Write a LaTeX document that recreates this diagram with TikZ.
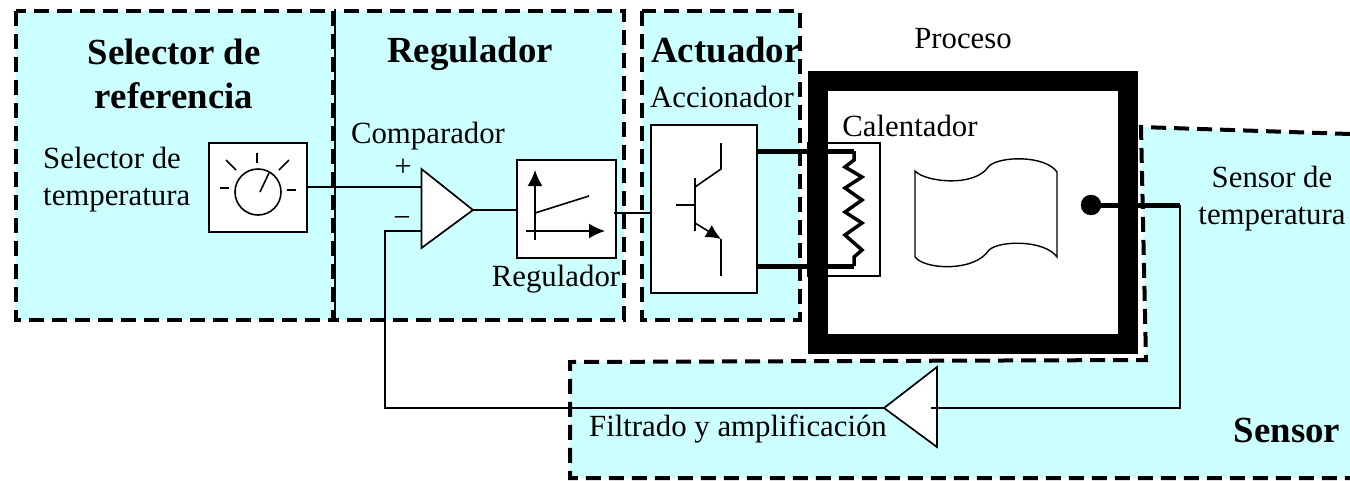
\documentclass[tikz,border=0pt]{standalone}
\usepackage{fontspec}
\setmainfont{Liberation Serif}
\usetikzlibrary{arrows.meta}
\definecolor{panelcyan}{HTML}{CCFFFF}

\tikzset{
  panel/.style={fill=panelcyan,draw=black,line width=4pt,dash pattern=on 15pt off 8pt},
  wire/.style={draw=black,line width=1.7pt},
  thickwire/.style={draw=black,line width=5pt},
  blockbox/.style={draw=black,fill=white,line width=2pt,inner sep=0pt},
  plain/.style={inner sep=0pt,font=\fontsize{30.8}{37}\selectfont},
  title/.style={inner sep=0pt,align=center,font=\fontsize{36.8}{44}\selectfont\bfseries},
}

\begin{document}
\begin{tikzpicture}[x=1pt,y=-1pt]
\useasboundingbox (0,0) rectangle (1350,480);

% Draw the dashed panels
\filldraw[panel] (16,11) rectangle (333,320);
\filldraw[panel] (334,11) rectangle (624,320);
\draw[wire] (335,11) -- (335,320);
\filldraw[panel] (642,11) rectangle (800,320);
\fill[panelcyan] (1141,127) -- (1350,134) -- (1350,478) -- (570,478) -- (570,362) -- (1146,360) -- cycle;
\draw[panel,fill=none] (1350,134) -- (1141,127) -- (1146,360) -- (570,362) -- (570,478) -- (1350,478);

% Draw the titles
\node[title] (selectortitle) at (174,74) {Selector de\\referencia};
\node[title,anchor=base] (regtitle) at (470,62) {Regulador};
\node[title,anchor=base] (acttitle) at (726,62) {Actuador};
\node[title,anchor=base] (sensortitle) at (1287,442) {Sensor};

% Draw the heater box and the process frame
\node[blockbox,minimum width=72pt,minimum height=133pt,line width=1.4pt] (heater) at (844,209.5) {};
\draw[draw=black,line width=20pt] (818,81) rectangle (1128,344);

% Draw the blocks
\node[blockbox,minimum width=98pt,minimum height=89pt] (dial) at (258,187.5) {};
\node[blockbox,minimum width=99pt,minimum height=98pt] (regbox) at (566.5,209) {};
\node[blockbox,minimum width=106pt,minimum height=168pt] (driver) at (704,209) {};

% Draw the dial
\draw[line width=1.6pt] (258,192) circle (23);
\draw[line width=1.6pt] (260,192) -- (269,173);
\draw[line width=1.6pt] (220,188) -- (229,188);
\draw[line width=1.6pt] (287,190) -- (296,190);
\draw[line width=1.6pt] (257,153) -- (257,163);
\draw[line width=1.6pt] (226,160) -- (236,170);
\draw[line width=1.6pt] (289,160) -- (279,170);

% Draw the controller graph
\draw[-{Latex[length=16pt,width=15pt]},line width=1.6pt] (535,240) -- (535,170);
\draw[-{Latex[length=16pt,width=15pt]},line width=1.6pt] (526,231) -- (605,231);
\draw[line width=1.6pt] (535,213) -- (589,196);

% Draw the transistor
\draw[line width=1.6pt] (695,178) -- (695,231);
\draw[line width=1.6pt] (676,205) -- (695,205);
\draw[line width=1.6pt] (695,187) -- (721,169) -- (721,143);
\draw[-{Latex[length=15pt,width=14pt]},line width=1.6pt] (695,223) -- (721,239);
\draw[line width=1.6pt] (721,239) -- (721,276);

% Draw the comparator and the filter
\coordinate (cmpa) at (421.5,169);
\coordinate (cmpb) at (421.5,248);
\coordinate (cmpout) at (473,210);
\coordinate (cmpplus) at (421.5,187);
\coordinate (cmpminus) at (421.5,231);
\coordinate (cmpcorner) at (385,231);
\coordinate (fila) at (937,367);
\coordinate (filb) at (937,447);
\coordinate (filout) at (884,408);
\coordinate (filin) at (931,408);
\coordinate (sensorcorner) at (1180,408);
\coordinate (sensorend) at (1180,205);
\coordinate (fbcorner) at (385,408);
\coordinate (probe) at (1091,205);
\filldraw[fill=white,draw=black,line width=1.7pt] (cmpa) -- (cmpout) -- (cmpb) -- cycle;
\filldraw[fill=white,draw=black,line width=1.7pt] (fila) -- (filout) -- (filb) -- cycle;

% Draw the connectors
\draw[wire] (dial.east |- cmpplus) -- (cmpplus);
\draw[wire] (cmpout) -- (regbox.west |- cmpout);
\draw[wire] (614,213) coordinate (regout) -- (driver.west |- regout);
\draw[wire] (cmpminus) -- (cmpcorner) -- (fbcorner) -- (filout);
\draw[wire] (sensorend) -- (sensorcorner) -- (filin);

% Draw the heater wires and the resistor
\coordinate (wiretop) at (854,151);
\coordinate (wirebot) at (854,266);
\draw[thickwire] (driver.east |- wiretop) -- (wiretop);
\draw[thickwire] (driver.east |- wirebot) -- (wirebot);
\draw[line width=3.5pt,line join=miter] (wiretop) -- (854,160) -- (845,167) -- (862,177) -- (845,188) -- (862,200) -- (845,212) -- (862,223) -- (845,235) -- (862,250) -- (854,257) -- (wirebot);

% Draw the liquid
\draw[line width=1.4pt] (915,171) .. controls (925,182) and (975,188) .. (989,166) .. controls (1000,156) and (1045,155) .. (1057,172) -- (1057,257) .. controls (1045,240) and (1000,240) .. (989,250) .. controls (975,272) and (925,270) .. (915,257) -- cycle;

% Draw the temperature probe
\filldraw[black] (probe) circle (10);
\draw[thickwire] (probe) -- (sensorend);

% Draw the texts
\node[plain,align=left,anchor=west] (seltext) at (43,180) {Selector de\\temperatura};
\node[plain,anchor=base] (cmptext) at (428,143) {Comparador};
\node[plain] (plussign) at (403,168) {+};
\node[plain] (minussign) at (402,222) {\textminus};
\node[plain,anchor=base] (regtext) at (556,286) {Regulador};
\node[plain,anchor=base] (acctext) at (722,107) {Accionador};
\node[plain,anchor=base] (caltext) at (910,136) {Calentador};
\node[plain,anchor=base] (proctext) at (963,48) {Proceso};
\node[plain,align=center] (sentext) at (1272,199) {Sensor de\\temperatura};
\node[plain,anchor=base] (filtext) at (738,436) {Filtrado y amplificación};

\end{tikzpicture}
\end{document}
